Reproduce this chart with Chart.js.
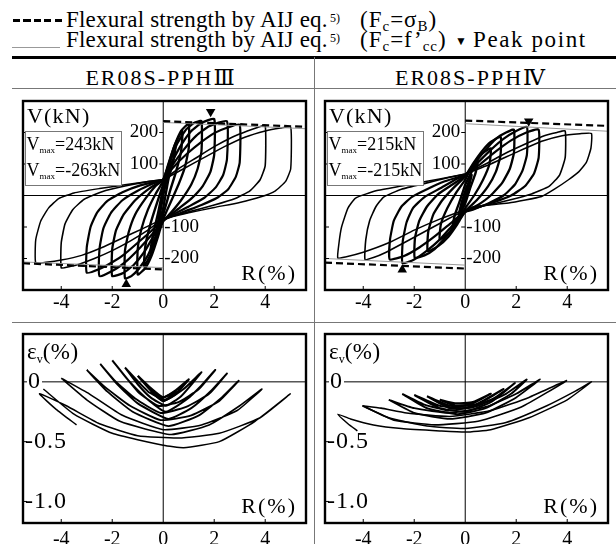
<!DOCTYPE html>
<html>
<head>
<meta charset="utf-8">
<script src="https://cdn.jsdelivr.net/npm/chart.js@4.4.1/dist/chart.umd.min.js"></script>
<style>
body{margin:0;width:616px;height:544px;overflow:hidden;background:#fff;position:relative;font-family:"Liberation Serif","Tinos","Times New Roman","DejaVu Serif",serif;color:#000}
.t{position:absolute;white-space:nowrap;line-height:1}
.t sub{font-size:15px;vertical-align:baseline;position:relative;top:4px}
.ln{position:absolute}
canvas{position:absolute}
</style>
</head>
<body>
<!-- legend -->
<div class="ln" style="left:13px;top:19px;width:49px;height:3px;background:repeating-linear-gradient(90deg,#000 0 7px,transparent 7px 10.5px)"></div>
<div class="t" style="left:66px;top:8px;font-size:23px;letter-spacing:0.2px">Flexural strength by AIJ eq.</div>
<div class="t" style="left:330px;top:12px;font-size:12px">5)</div>
<div class="t" style="left:360px;top:8px;font-size:23px;letter-spacing:1px">(F<sub>c</sub>=σ<sub>B</sub>)</div>
<div class="ln" style="left:12px;top:47px;width:48px;height:1px;background:#999"></div>
<div class="t" style="left:66px;top:28px;font-size:23px;letter-spacing:0.2px">Flexural strength by AIJ eq.</div>
<div class="t" style="left:330px;top:32px;font-size:12px">5)</div>
<div class="t" style="left:360px;top:28px;font-size:23px;letter-spacing:1px">(F<sub>c</sub>=f’<sub>cc</sub>)</div>
<div class="t" style="left:455px;top:35px;font-size:12px">▼</div>
<div class="t" style="left:473px;top:28px;font-size:23px;letter-spacing:1.6px">Peak point</div>
<!-- table rules -->
<div class="ln" style="left:12px;top:56px;width:604px;height:2.5px;background:#000"></div>
<div class="ln" style="left:12px;top:88px;width:604px;height:1px;background:#777"></div>
<div class="ln" style="left:12px;top:322px;width:604px;height:1px;background:#777"></div>
<div class="ln" style="left:314px;top:57px;width:1px;height:487px;background:#777"></div>
<div class="t" style="left:2px;top:67px;width:318px;text-align:center;font-size:22px;letter-spacing:2px">ER08S-PPHⅢ</div>
<div class="t" style="left:316px;top:67px;width:310px;text-align:center;font-size:22px;letter-spacing:2px">ER08S-PPHⅣ</div>

<canvas id="c1" width="301" height="225" style="left:11px;top:91px"></canvas>
<canvas id="c2" width="301" height="225" style="left:313px;top:91px"></canvas>
<canvas id="c3" width="301" height="225" style="left:11px;top:324px"></canvas>
<canvas id="c4" width="301" height="225" style="left:313px;top:324px"></canvas>

<script>
// ---- data ----
const rTicks = [-4, -2, 0, 2, 4];
const vTicks = [200, 100, -100, -200];
const vTickLabels = ['200', '100', '-100', '-200'];
const eTicks = [0, -0.5, -1.0];
const eTickLabels = ['0', '-0.5', '-1.0'];

const vmaxIII = ['243', '-263'];
const vmaxIV = ['215', '-215'];

// shear force V(kN) vs drift R(%) cycles, ER08S-PPHIII
const loopsIII = [
  [[-0.25,-105],[-0.12,-55],[0,0],[0.12,50],[0.25,95],[0.15,55],[0,0],[-0.15,-60],[-0.25,-105]],
  [[0,25],[0.15,70],[0.3,115],[0.5,165],[0.4,110],[0.2,50],[0,-40],[-0.15,-85],[-0.3,-130],[-0.5,-180],[-0.4,-125],[-0.2,-55],[0,25]],
  [[0,35],[0.2,95],[0.45,160],[0.75,205],[0.7,140],[0.5,75],[0.25,10],[0,-60],[-0.2,-120],[-0.45,-180],[-0.75,-225],[-0.7,-160],[-0.5,-90],[-0.25,-25],[0,35]],
  [[0,45],[0.2,100],[0.45,160],[0.7,205],[1,228],[1,150],[0.85,90],[0.6,35],[0.3,-20],[0,-75],[-0.2,-130],[-0.45,-190],[-0.7,-230],[-1,-251],[-1,-170],[-0.85,-105],[-0.6,-45],[-0.3,5],[0,45]],
  [[0,50],[0.25,105],[0.55,165],[0.9,210],[1.2,230],[1.5,236],[1.5,140],[1.35,85],[1.1,35],[0.7,-15],[0.3,-55],[0,-82],[-0.3,-135],[-0.6,-190],[-0.95,-232],[-1.25,-256],[-1.5,-263],[-1.5,-175],[-1.35,-115],[-1.1,-60],[-0.7,-10],[-0.3,30],[0,50]],
  [[0,50],[0.3,100],[0.7,160],[1.1,205],[1.5,230],[2,243],[2,130],[1.85,75],[1.55,30],[1.1,-10],[0.6,-42],[0,-80],[-0.35,-125],[-0.75,-180],[-1.15,-220],[-1.55,-245],[-2,-256],[-2,-170],[-1.85,-110],[-1.55,-60],[-1.1,-15],[-0.55,22],[0,50]],
  [[0,50],[0.35,95],[0.8,145],[1.3,190],[1.8,220],[2.5,236],[2.5,115],[2.35,65],[2.05,25],[1.6,-8],[1,-35],[0.4,-60],[0,-80],[-0.4,-120],[-0.9,-165],[-1.4,-205],[-1.9,-235],[-2.5,-256],[-2.5,-170],[-2.35,-105],[-2.05,-55],[-1.6,-15],[-1,15],[-0.4,38],[0,50]],
  [[0,50],[0.4,90],[0.9,130],[1.5,170],[2,198],[2.5,215],[3,225],[3,105],[2.85,60],[2.55,20],[2.1,-8],[1.5,-30],[0.8,-52],[0,-78],[-0.5,-115],[-1,-150],[-1.5,-185],[-2,-212],[-2.5,-233],[-3,-245],[-3,-165],[-2.85,-100],[-2.6,-55],[-2.2,-18],[-1.6,10],[-0.9,32],[0,50]],
  [[0,50],[0.6,85],[1.3,120],[2,155],[2.7,185],[3.3,205],[3.7,216],[4,222],[4,95],[3.8,50],[3.4,15],[2.8,-10],[2,-30],[1,-52],[0,-75],[-0.6,-110],[-1.3,-145],[-2,-175],[-2.7,-200],[-3.3,-218],[-3.7,-226],[-4,-230],[-4,-150],[-3.85,-90],[-3.55,-45],[-3.1,-12],[-2.4,12],[-1.5,30],[-0.6,44],[0,50]],
  [[0,50],[0.8,85],[1.6,120],[2.4,155],[3.2,185],[4,205],[4.6,214],[5,217],[5,85],[4.8,45],[4.4,15],[3.8,-5],[3,-22],[2,-38],[1,-55],[0,-75],[-0.8,-105],[-1.6,-135],[-2.4,-165],[-3.2,-190],[-4,-205],[-4.6,-212],[-5,-214],[-5,-140],[-4.8,-80],[-4.5,-40],[-4.1,-10],[-3.5,8],[-2.5,22],[-1.5,34],[-0.5,45],[0,50]]
];

// shear force V(kN) vs drift R(%) cycles, ER08S-PPHIV
const loopsIV = [
  [[0,15],[0.25,65],[0.15,30],[0,-10],[-0.25,-60],[-0.15,-25],[0,15]],
  [[0,35],[0.25,75],[0.5,110],[0.4,70],[0.2,25],[0,-25],[-0.25,-65],[-0.5,-100],[-0.4,-60],[-0.2,-15],[0,35]],
  [[0,50],[0.25,90],[0.55,125],[1,150],[0.95,100],[0.7,50],[0.35,0],[0,-40],[-0.3,-80],[-0.6,-115],[-1,-140],[-0.95,-90],[-0.7,-40],[-0.35,10],[0,50]],
  [[0,60],[0.3,100],[0.65,140],[1,170],[1.39,186],[1.38,125],[1.2,75],[0.9,30],[0.45,-15],[0,-50],[-0.3,-90],[-0.65,-130],[-1.05,-160],[-1.47,-177],[-1.45,-115],[-1.25,-60],[-0.9,-15],[-0.45,25],[0,60]],
  [[0,62],[0.4,105],[0.8,145],[1.2,180],[1.6,200],[1.91,209],[1.91,135],[1.75,85],[1.45,40],[1,0],[0.5,-30],[0,-52],[-0.4,-95],[-0.8,-135],[-1.2,-170],[-1.6,-190],[-1.98,-198],[-1.97,-135],[-1.8,-80],[-1.5,-35],[-1.05,5],[-0.5,35],[0,62]],
  [[0,65],[0.5,105],[1,145],[1.5,180],[2,205],[2.42,218],[2.42,130],[2.25,80],[1.95,35],[1.5,0],[0.9,-25],[0.3,-45],[0,-52],[-0.5,-95],[-1,-140],[-1.5,-175],[-2,-203],[-2.46,-215],[-2.45,-145],[-2.3,-85],[-2.05,-40],[-1.6,-5],[-1,22],[-0.4,50],[0,65]],
  [[0,65],[0.6,100],[1.2,140],[1.8,175],[2.4,200],[2.88,209],[2.88,120],[2.7,70],[2.35,30],[1.8,0],[1.1,-22],[0.4,-40],[0,-50],[-0.6,-90],[-1.2,-130],[-1.8,-165],[-2.4,-192],[-2.96,-203],[-2.95,-140],[-2.8,-80],[-2.5,-35],[-2.1,-5],[-1.5,20],[-0.8,45],[0,65]],
  [[0,68],[0.8,100],[1.6,135],[2.4,165],[3.1,190],[3.6,200],[3.92,205],[3.92,120],[3.7,65],[3.3,30],[2.6,5],[1.7,-15],[0.8,-32],[0,-48],[-0.8,-80],[-1.6,-115],[-2.4,-150],[-3.1,-180],[-3.6,-197],[-3.93,-203],[-3.9,-140],[-3.75,-80],[-3.5,-35],[-3.2,-5],[-2.5,20],[-1.5,40],[-0.6,58],[0,68]],
  [[0,68],[1,100],[2,137],[3,172],[3.8,190],[4.5,196],[4.95,197],[4.93,150],[4.75,105],[4.45,75],[4.05,50],[3.5,20],[3,-3],[1.7,-24],[0.4,-35],[0,-45],[-1,-75],[-2,-110],[-3,-150],[-4,-180],[-4.7,-195],[-5,-198],[-4.95,-150],[-4.85,-100],[-4.6,-40],[-4.3,-8],[-3.5,15],[-2.5,30],[-1.5,45],[-0.5,60],[0,68]]
];

// flexural strength lines (AIJ): Fc = sigmaB (dashed) and Fc = f'cc (grey)
const sigmaIII = [[0,236],[5.6,218],null,[-5.5,-215],[0,-235]];
const fccIII = [[0,232],[5.6,212],null,[-5.5,-211],[0,-229]];
const sigmaIV = [[0,238],[5.6,221],null,[-5.5,-213],[0,-232]];
const fccIV = [[0,228],[5.6,204],null,[-5.5,-200],[0,-221]];

// peak points
const peakIII = [[1.86,266],[-1.45,-282]];
const peakIV = [[2.49,236],[-2.47,-236]];

// vertical strain ev(%) vs R(%) cycles
const strainIII = [
  [[-0.5,-0.08],[0,-0.16],[0.5,-0.08],[0,-0.13],[-0.5,-0.08]],
  [[-1,0.05],[-0.5,-0.07],[0,-0.16],[0.5,-0.1],[1,0.02],[0.5,-0.07],[0,-0.13],[-0.5,-0.05],[-1,0.05]],
  [[-1.5,0.12],[-1,-0.02],[-0.5,-0.13],[0.1,-0.2],[0.7,-0.12],[1.5,0.08],[0.8,-0.06],[0.1,-0.15],[-0.6,-0.08],[-1.5,0.12]],
  [[-2,0.18],[-1.4,0.02],[-0.7,-0.13],[0.1,-0.25],[0.9,-0.15],[1.5,-0.03],[2.04,0.1],[1.4,-0.06],[0.6,-0.17],[-0.2,-0.2],[-1,-0.08],[-2,0.18]],
  [[-2.47,0.15],[-1.8,-0.02],[-1,-0.18],[0.2,-0.31],[1.1,-0.22],[1.9,-0.07],[2.5,0.07],[1.8,-0.1],[0.9,-0.21],[-0.1,-0.26],[-1.1,-0.14],[-1.9,0.01],[-2.47,0.15]],
  [[-3,0.1],[-2.2,-0.08],[-1.2,-0.25],[0.2,-0.37],[1.4,-0.28],[2.3,-0.13],[2.96,0.01],[2.2,-0.16],[1.1,-0.28],[-0.1,-0.32],[-1.3,-0.2],[-2.3,-0.04],[-3,0.1]],
  [[-4,0.03],[-3,-0.15],[-1.7,-0.33],[0.3,-0.44],[1.8,-0.36],[3,-0.2],[3.87,-0.06],[2.9,-0.24],[1.5,-0.36],[0,-0.4],[-1.6,-0.28],[-2.9,-0.1],[-4,0.03]],
  [[-4.7,-0.06],[-3.5,-0.27],[-2,-0.43],[0,-0.53],[0.8,-0.55],[2.2,-0.5],[3.6,-0.33],[4.98,-0.1],[3.8,-0.3],[2.2,-0.43],[0.6,-0.47],[-1,-0.45],[-2.5,-0.35],[-3.8,-0.2],[-4.85,-0.1],[-4.2,-0.23],[-3.4,-0.36]]
];

const strainIV = [
  [[-1,-0.15],[-0.4,-0.2],[0.2,-0.19],[1,-0.1],[0.3,-0.17],[-0.4,-0.18],[-1,-0.15]],
  [[-1.5,-0.12],[-0.6,-0.22],[0.3,-0.21],[1.5,-0.06],[0.4,-0.19],[-0.6,-0.2],[-1.5,-0.12]],
  [[-2,-0.11],[-1,-0.22],[0,-0.25],[1,-0.17],[1.95,-0.01],[1.1,-0.14],[0,-0.22],[-1,-0.2],[-2,-0.11]],
  [[-2.47,-0.1],[-1.5,-0.22],[-0.3,-0.27],[0.8,-0.22],[1.8,-0.1],[2.41,0.02],[1.6,-0.1],[0.5,-0.2],[-0.6,-0.24],[-1.6,-0.19],[-2.47,-0.1]],
  [[-3,-0.15],[-2,-0.26],[-0.6,-0.31],[0.8,-0.26],[2,-0.13],[2.93,0.02],[2,-0.1],[0.8,-0.21],[-0.6,-0.26],[-2,-0.22],[-3,-0.15]],
  [[-4.03,-0.2],[-2.8,-0.32],[-1.2,-0.36],[0.5,-0.33],[2.2,-0.21],[3.97,0.01],[2.5,-0.13],[1,-0.24],[-0.6,-0.29],[-2.3,-0.26],[-3.3,-0.22],[-4.03,-0.2]],
  [[-4.03,-0.2],[-3,-0.3],[-1.5,-0.37],[0,-0.39],[1.6,-0.34],[3.2,-0.2],[4.3,-0.08],[4.95,0],[4,-0.15],[2.5,-0.3],[1,-0.4],[0,-0.42],[-1,-0.41],[-2.5,-0.39],[-3.6,-0.36],[-4.5,-0.31],[-5,-0.27],[-4.6,-0.35],[-4.23,-0.41]]
];

const FONT = '"Liberation Serif", "Tinos", "Times New Roman", "DejaVu Serif", serif';

function pts(arr)
{
    return arr.map(p => p ? {x: p[0], y: p[1]} : {x: null, y: null});
}

// draws a run of text pieces [text, size, dy, spacing] one after the other
function rich(ctx, parts, x, y)
{
    for (const [s, size, dy, ls] of parts) {
        ctx.font = size + 'px ' + FONT;
        ctx.letterSpacing = (ls || 0) + 'px';
        ctx.fillText(s, x, y + dy);
        x += ctx.measureText(s).width;
    }
    ctx.letterSpacing = '0px';
    return x;
}

function richWidth(ctx, parts)
{
    let w = 0;
    for (const [s, size, dy, ls] of parts) {
        ctx.font = size + 'px ' + FONT;
        ctx.letterSpacing = (ls || 0) + 'px';
        w += ctx.measureText(s).width;
    }
    ctx.letterSpacing = '0px';
    return w;
}

const panelPlugin = {
    id: 'panel',
    beforeDatasetsDraw(chart, args, o) {
        const ctx = chart.ctx, a = chart.chartArea;
        const x0 = chart.scales.x.getPixelForValue(0);
        const y0 = chart.scales.y.getPixelForValue(0);
        ctx.save();
        ctx.strokeStyle = '#000';
        ctx.lineWidth = 1;
        ctx.beginPath();
        ctx.moveTo(x0, a.top); ctx.lineTo(x0, a.bottom);
        ctx.moveTo(a.left + o.zeroGap, y0); ctx.lineTo(a.right, y0);
        ctx.stroke();
        ctx.restore();
    },
    afterDatasetsDraw(chart, args, o) {
        const ctx = chart.ctx, a = chart.chartArea;
        const sx = chart.scales.x, sy = chart.scales.y;
        const x0 = sx.getPixelForValue(0);
        ctx.save();
        ctx.fillStyle = '#000';
        ctx.strokeStyle = '#000';
        // small inward ticks
        ctx.lineWidth = 1;
        ctx.beginPath();
        rTicks.forEach(v => {
            if (v === 0) return;
            const px = sx.getPixelForValue(v);
            ctx.moveTo(px, a.bottom); ctx.lineTo(px, a.bottom - 4);
        });
        o.yTicks.forEach(v => {
            const py = sy.getPixelForValue(v);
            ctx.moveTo(a.left, py); ctx.lineTo(a.left + 4, py);
            if (o.onAxis) { ctx.moveTo(x0 - 4, py); ctx.lineTo(x0, py); }
        });
        ctx.stroke();
        // y tick labels
        ctx.textBaseline = 'middle';
        o.yTicks.forEach((v, i) => {
            const py = sy.getPixelForValue(v);
            if (o.onAxis) {
                ctx.font = '19px ' + FONT;
                ctx.textAlign = v > 0 ? 'right' : 'left';
                ctx.fillText(o.yLabels[i], v > 0 ? x0 - 5 : x0 + 1, py);
            } else {
                ctx.font = '24px ' + FONT;
                ctx.letterSpacing = '1px';
                ctx.textAlign = 'left';
                ctx.fillText(o.yLabels[i], a.left + (v === 0 ? 5 : 2), py);
                ctx.letterSpacing = '0px';
            }
        });
        // axis titles
        ctx.textAlign = 'left';
        ctx.textBaseline = 'alphabetic';
        if (o.vmax) {
            rich(ctx, [['V(kN)', 22, 0, 1.2]], a.left + 4, a.top + 22);
        } else {
            rich(ctx, [['ε', 23, 0], ['v', 12, 4], ['(%)', 23, 0, 0.5]], a.left + 4, a.top + 25);
        }
        const rt = [['R(%)', 22, 0, 2]];
        rich(ctx, rt, a.right - 9 - richWidth(ctx, rt), a.bottom - 10);
        // Vmax box
        if (o.vmax) {
            const bx = a.left + 2, by = a.top + 30, bw = 96, bh = 54;
            ctx.fillStyle = '#fff';
            ctx.fillRect(bx, by, bw, bh);
            ctx.strokeStyle = '#777';
            ctx.lineWidth = 1;
            ctx.strokeRect(bx + 0.5, by + 0.5, bw, bh);
            ctx.fillStyle = '#000';
            rich(ctx, [['V', 18, 0], ['max', 9, 3], ['=' + o.vmax[0] + 'kN', 18, 0]], bx + 1.5, by + 19);
            rich(ctx, [['V', 18, 0], ['max', 9, 3], ['=' + o.vmax[1] + 'kN', 18, 0]], bx + 1.5, by + 45);
        }
        // frame
        ctx.strokeStyle = '#000';
        ctx.lineWidth = 2.4;
        ctx.strokeRect(a.left, a.top, a.right - a.left, a.bottom - a.top);
        ctx.restore();
    }
};

function makePanel(id, loops, yMin, yMax, o, extra, widths, tickPad)
{
    const ds = [];
    (extra || []).forEach(d => ds.push(d));
    loops.forEach((l, i) => ds.push({
        data: pts(l),
        showLine: true,
        borderColor: '#000',
        borderWidth: widths[i],
        pointRadius: 0,
        tension: 0.15,
        fill: false
    }));
    new Chart(document.getElementById(id), {
        type: 'scatter',
        data: {datasets: ds},
        options: {
            responsive: false,
            animation: false,
            events: [],
            layout: {padding: {left: 12, right: 6, top: 10, bottom: 0}},
            plugins: {legend: {display: false}, tooltip: {enabled: false}, panel: o},
            scales: {
                x: {
                    type: 'linear', min: -5.5, max: 5.6,
                    grid: {display: false, drawTicks: false},
                    border: {display: false},
                    ticks: {color: '#000', padding: tickPad, font: {family: FONT, size: 20}},
                    afterBuildTicks: s => { s.ticks = rTicks.map(v => ({value: v})); },
                    afterFit: s => { s.height = 26; }
                },
                y: {type: 'linear', min: yMin, max: yMax, display: false}
            }
        },
        plugins: [panelPlugin]
    });
}

function strengthSets(sigma, fcc, peaks)
{
    return [
        {data: pts(peaks), showLine: false, pointStyle: 'triangle', pointRadius: 5.5,
         pointRotation: [180, 0], backgroundColor: '#000', borderColor: '#000', borderWidth: 0, clip: false},
        {data: pts(sigma), showLine: true, borderColor: '#000', borderWidth: 2.2, borderDash: [7, 4],
         pointRadius: 0, spanGaps: false, tension: 0},
        {data: pts(fcc), showLine: true, borderColor: '#999', borderWidth: 1,
         pointRadius: 0, spanGaps: false, tension: 0}
    ];
}

makePanel('c1', loopsIII, -300, 300,
    {yTicks: vTicks, yLabels: vTickLabels, onAxis: true, zeroGap: 0, vmax: vmaxIII},
    strengthSets(sigmaIII, fccIII, peakIII), [2.4, 2.4, 2.4, 2.3, 2.3, 2.3, 2.2, 2.2, 1.6, 1.5], 1);
makePanel('c2', loopsIV, -300, 300,
    {yTicks: vTicks, yLabels: vTickLabels, onAxis: true, zeroGap: 0, vmax: vmaxIV},
    strengthSets(sigmaIV, fccIV, peakIV), [2.4, 2.4, 2.3, 2.3, 2.3, 2.2, 2.2, 1.6, 1.5], 1);
makePanel('c3', strainIII, -1.18, 0.4,
    {yTicks: eTicks, yLabels: eTickLabels, onAxis: false, zeroGap: 19, vmax: null},
    null, [2.2, 2.2, 2, 2, 1.9, 1.8, 1.6, 1.5], 5);
makePanel('c4', strainIV, -1.18, 0.4,
    {yTicks: eTicks, yLabels: eTickLabels, onAxis: false, zeroGap: 19, vmax: null},
    null, [2.2, 2.2, 2, 1.9, 1.8, 1.6, 1.5], 5);
</script>
</body>
</html>
